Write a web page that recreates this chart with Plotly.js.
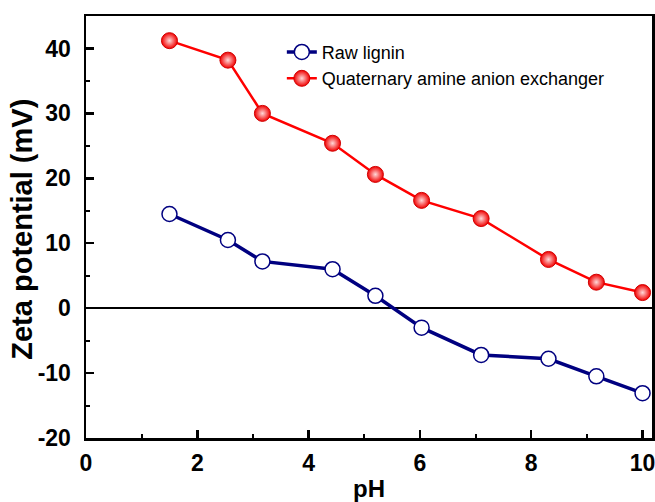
<!DOCTYPE html>
<html>
<head>
<meta charset="utf-8">
<script src="https://cdn.plot.ly/plotly-3.0.1.min.js"></script>
<style>html,body{margin:0;padding:0;background:#fff;}#chart{width:655px;height:502px;}</style>
</head>
<body>
<div id="chart"></div>
<script>
var pH = [1.5, 2.55, 3.17, 4.43, 5.2, 6.03, 7.1, 8.31, 9.17, 10.0];
var rawLignin = [14.5, 10.5, 7.2, 6.0, 1.9, -3.0, -7.2, -7.8, -10.5, -13.1];
var quatAmine = [41.2, 38.2, 30.0, 25.4, 20.6, 16.6, 13.8, 7.5, 4.0, 2.4];
var seriesNames = ["Raw lignin", "Quaternary amine anion exchanger"];
var xTickVals = [0, 2, 4, 6, 8, 10];
var xTickText = ["0", "2", "4", "6", "8", "10"];
var yTickVals = [-20, -10, 0, 10, 20, 30, 40];
var yTickText = ["-20", "-10", "0", "10", "20", "30", "40"];
var xTitle = "pH";
var yTitle = "Zeta potential (mV)";

var traces = [
  {
    x: pH, y: rawLignin, name: seriesNames[0], type: 'scatter', mode: 'lines+markers',
    line: {color: '#000080', width: 3.5},
    marker: {size: 15, color: '#ffffff', line: {color: '#000080', width: 1.5}}
  },
  {
    x: pH, y: quatAmine, name: seriesNames[1], type: 'scatter', mode: 'lines+markers',
    line: {color: '#ff0000', width: 2.5},
    marker: {size: 16, color: '#f20000', gradient: {type: 'radial', color: '#ffd8d8'}, line: {color: '#d00000', width: 1}}
  }
];

var font = 'Liberation Sans, Arial, sans-serif';
var layout = {
  width: 655, height: 502,
  margin: {l: 86, r: 3, t: 16, b: 64},
  paper_bgcolor: '#ffffff', plot_bgcolor: '#ffffff',
  showlegend: true,
  legend: {x: 0.346, y: 0.958, xanchor: 'left', yanchor: 'top', bgcolor: 'rgba(0,0,0,0)',
           font: {family: font, size: 18, color: '#000'}},
  xaxis: {
    range: [0, 10.17], tickmode: 'array', tickvals: xTickVals, ticktext: xTickText,
    ticks: 'inside', ticklen: 8, tickwidth: 2.5, tickcolor: '#000',
    minor: {dtick: 1, tick0: 0, ticks: 'inside', ticklen: 4, tickwidth: 2, tickcolor: '#000'},
    showline: true, linewidth: 2.5, linecolor: '#000', mirror: true,
    showgrid: false, zeroline: false,
    tickfont: {family: font, size: 23, color: '#000', weight: 'bold'},
    ticklabelstandoff: 3, ticklabeloverflow: 'allow',
    title: {text: '<b>' + xTitle + '</b>', font: {family: font, size: 24, color: '#000'}, standoff: 6}
  },
  yaxis: {
    range: [-20, 45], tickmode: 'array', tickvals: yTickVals, ticktext: yTickText,
    ticks: 'inside', ticklen: 8, tickwidth: 2.5, tickcolor: '#000',
    minor: {dtick: 5, tick0: 0, ticks: 'inside', ticklen: 4, tickwidth: 2, tickcolor: '#000'},
    showline: true, linewidth: 2.5, linecolor: '#000', mirror: true,
    showgrid: false,
    zeroline: true, zerolinecolor: '#000', zerolinewidth: 1.5,
    tickfont: {family: font, size: 23, color: '#000', weight: 'bold'},
    ticklabelstandoff: 8, ticklabeloverflow: 'allow'
  },
  annotations: [{
    text: '<b>' + yTitle + '</b>', textangle: -90, showarrow: false,
    xref: 'paper', yref: 'paper', x: -0.112, y: 0.495, xanchor: 'center', yanchor: 'middle',
    font: {family: font, size: 29, color: '#000'}
  }]
};

Plotly.newPlot('chart', traces, layout, {displayModeBar: false, staticPlot: true});
</script>
</body>
</html>
